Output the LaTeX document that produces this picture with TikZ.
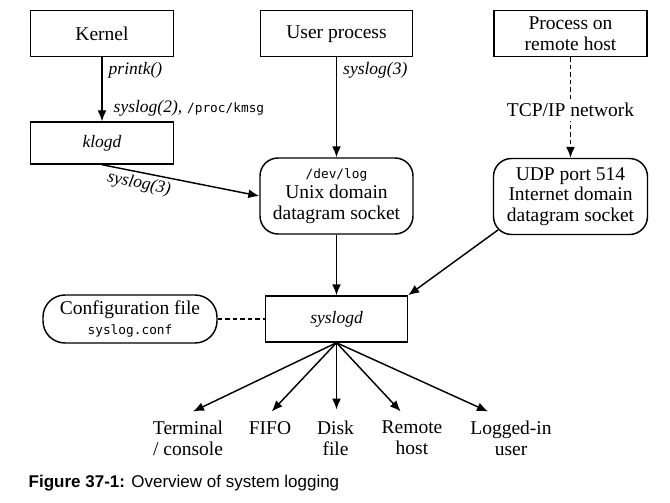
\documentclass[tikz,border=0pt]{standalone}
\usepackage{fontspec}
\setmainfont{Liberation Serif}
\setsansfont{Liberation Sans}
\setmonofont{DejaVu Sans Mono}
\usetikzlibrary{arrows.meta,calc}
\newcommand{\mtt}[1]{{\fontsize{12.8}{14}\selectfont\ttfamily #1}}
\newcommand{\lit}[1]{{\fontsize{17.5}{20}\selectfont\itshape #1}}
\begin{document}
\begin{tikzpicture}[x=1pt,y=-1pt,
  font=\fontsize{19.5}{20.5}\selectfont,
  line width=1.45pt,
  >={Latex[length=11pt,width=9pt]},
  box/.style={draw, minimum width=143pt, minimum height=46pt, inner sep=0pt, align=center},
  rbox/.style={box, rounded corners=18pt, minimum width=153pt, minimum height=76pt},
  dsh/.style={dash pattern=on 4.5pt off 3pt},
  outlbl/.style={anchor=north, inner sep=0pt, align=center}]
\useasboundingbox (0,0) rectangle (670,503);
% boxes
\node[box] (kernel) at (102,33.7) {Kernel};
\node[box, minimum width=152pt] (user) at (336.5,33.7) {User process};
\node[box, minimum width=153pt] (remote) at (570.5,33.7) {Process on\\remote host};
\node[box, minimum height=42pt] (klogd) at (102,143) {\lit{klogd}};
\node[rbox] (devlog) at (336.5,196) {\mtt{/dev/log}\\Unix domain\\datagram socket};
\node[rbox, minimum width=154pt] (udp) at (570.5,196.5) {UDP port 514\\Internet domain\\datagram socket};
\node[box, minimum width=142pt, minimum height=46pt] (syslogd) at (336.5,319) {\lit{syslogd}};
\node[box, rounded corners=22pt, minimum width=174pt, minimum height=48pt] (config) at (130,319) {Configuration file\\\mtt{syslog.conf}};
% outputs
\node[outlbl] (term) at (188,420.5) {Terminal\\/ console};
\node[outlbl] (fifo) at (270,420.5) {FIFO};
\node[outlbl] (disk) at (335.5,420.5) {Disk\\file};
\node[outlbl] (rhost) at (412,420.5) {Remote\\host};
\node[outlbl] (user2) at (511,420.5) {Logged-in\\user};
\coordinate (tterm) at (193,411.5);
\coordinate (tfifo) at (271.7,411.5);
\coordinate (tdisk) at (336.5,409.5);
\coordinate (trhost) at (400.7,411.5);
\coordinate (tuser) at (488,411.5);
% connectors
\draw[->] (kernel) -- (klogd)
  node[pos=0.2, anchor=west, xshift=6pt, inner sep=0pt] {\lit{printk()}}
  node[pos=0.8, anchor=west, xshift=11pt, inner sep=0pt] {\lit{syslog(2),} \mtt{/proc/kmsg}};
\draw[->] (klogd.south) -- (devlog.west)
  node[pos=0.25, below, sloped, inner sep=3pt] {\lit{syslog(3)}};
\draw[->] (user) -- (devlog)
  node[pos=0.13, anchor=west, xshift=6pt, inner sep=0pt] {\lit{syslog(3)}};
\draw[->, dsh] (remote) -- (udp);
\node[fill=white, inner xsep=3pt, inner ysep=4pt] (tcp) at ($(remote.south)!0.526!(udp.north)$) {TCP/IP network};
\draw[->] (devlog) -- (syslogd);
\coordinate (udpsw) at ($(udp.south west)+(5.3,-5.3)$);
\draw[->] (udpsw) -- (syslogd.north east);
\draw[dsh] (config) -- (syslogd);
\draw[->] (syslogd.south) -- (tterm);
\draw[->] (syslogd.south) -- (tfifo);
\draw[->] (syslogd.south) -- (tdisk);
\draw[->] (syslogd.south) -- (trhost);
\draw[->] (syslogd.south) -- (tuser);
% caption
\node[anchor=base west, inner sep=0pt, font=\sffamily\fontsize{17}{20}\selectfont] (cap) at (28,487) {\textbf{Figure 37-1:} Overview of system logging};
\end{tikzpicture}
\end{document}
